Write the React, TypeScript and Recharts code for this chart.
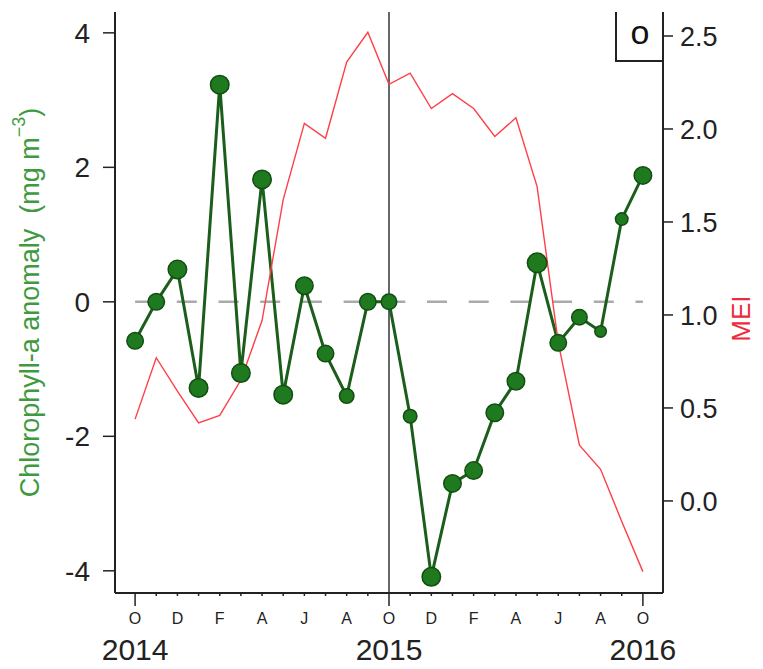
import React from 'react';
import { ComposedChart, Line, XAxis, YAxis, ReferenceLine } from 'recharts';

const monthLetters = ['O','N','D','J','F','M','A','M','J','J','A','S','O','N','D','J','F','M','A','M','J','J','A','S','O'];
const yearLabels: Record<number, string> = { 0: '2014', 12: '2015', 24: '2016' };
const chlAnomaly = [-0.58, 0.0, 0.48, -1.28, 3.23, -1.06, 1.82, -1.38, 0.24, -0.77, -1.40, 0.0, 0.0, -1.70, -4.09, -2.70, -2.51, -1.65, -1.18, 0.58, -0.61, -0.23, -0.44, 1.23, 1.88];
const meiValues = [0.44, 0.77, 0.59, 0.42, 0.46, 0.65, 0.97, 1.62, 2.03, 1.95, 2.36, 2.52, 2.24, 2.30, 2.11, 2.19, 2.11, 1.96, 2.06, 1.69, 0.85, 0.30, 0.17, -0.11, -0.38];
const pointSizes = [9, 9, 10, 10, 10, 10, 10, 10, 9.5, 9, 8, 9, 8.5, 7.5, 10, 9.5, 9.5, 9.5, 9.5, 10.5, 9, 8.5, 6.5, 7, 9.5];
const leftTicks = [-4, -2, 0, 2, 4];
const rightTicks = [0, 0.5, 1.0, 1.5, 2.0, 2.5];
const xTicks = monthLetters.map((_, i) => i);

const data = monthLetters.map((m, i) => ({
  i,
  chl: chlAnomaly[i],
  mei: meiValues[i],
  r: pointSizes[i],
}));

const FONT = 'Liberation Sans, Arial, sans-serif';

const XTick = (props: any) => {
  const { x, y, payload } = props;
  const idx = payload.value as number;
  const isYear = yearLabels[idx] !== undefined;
  return (
    <g>
      <line x1={x} x2={x} y1={y} y2={y + (isYear ? 13 : 3)} stroke="#222" strokeWidth={1.5} />
      {idx % 2 === 0 && (
        <text x={x} y={y + 31} textAnchor="middle" fontFamily={FONT} fontSize={16} fill="#222">
          {monthLetters[idx]}
        </text>
      )}
      {isYear && (
        <text x={x} y={y + 67} textAnchor="middle" fontFamily={FONT} fontSize={30} fill="#222">
          {yearLabels[idx]}
        </text>
      )}
    </g>
  );
};

const GreenDot = (props: any) => {
  const { cx, cy, payload, index } = props;
  if (cx == null || cy == null) return <g key={`d${index}`} />;
  return (
    <circle key={`d${index}`} cx={cx} cy={cy} r={payload.r - 0.75} fill="#1f7a1f" stroke="#124d12" strokeWidth={1.5} />
  );
};

const LeftLabel = (props: any) => {
  const vb = props.viewBox || { x: 55, y: 12, width: 60, height: 581 };
  const cx = vb.x - 25;
  const cy = vb.y + vb.height / 2;
  return (
    <text x={cx} y={cy} transform={`rotate(-90 ${cx} ${cy})`} textAnchor="middle" dominantBaseline="central" fontFamily={FONT} fontSize={27} fill="#3f9a3f">
      Chlorophyll-a anomaly{'\u00a0\u00a0'}(mg m<tspan dy={-11} fontSize={18}>{'\u22123'}</tspan><tspan dy={11}>)</tspan>
    </text>
  );
};

const RightLabel = (props: any) => {
  const vb = props.viewBox || { x: 663, y: 12, width: 60, height: 581 };
  const cx = vb.x + vb.width + 18;
  const cy = vb.y + vb.height / 2 + 16;
  return (
    <text x={cx} y={cy} transform={`rotate(-90 ${cx} ${cy})`} textAnchor="middle" dominantBaseline="central" fontFamily={FONT} fontSize={26} fill="#ee2a3a">
      MEI
    </text>
  );
};

export default function App() {
  return (
    <div style={{ position: 'absolute', left: 0, top: 0, width: 763, height: 669, background: '#fff' }}>
      <ComposedChart width={763} height={669} data={data} margin={{ top: 12, right: 40, bottom: 36, left: 55 }}>
        <XAxis
          dataKey="i"
          type="number"
          domain={[-0.95, 24.95]}
          ticks={xTicks}
          interval={0}
          tick={<XTick />}
          tickLine={false}
          tickSize={0}
          tickMargin={0}
          height={40}
          axisLine={{ stroke: '#222', strokeWidth: 2 }}
          allowDataOverflow
        />
        <XAxis
          xAxisId="top"
          orientation="top"
          dataKey="i"
          type="number"
          domain={[-0.95, 24.95]}
          tick={false}
          tickLine={false}
          height={0}
          axisLine={{ stroke: '#222', strokeWidth: 2 }}
        />
        <YAxis
          yAxisId="left"
          orientation="left"
          type="number"
          domain={[-4.33, 4.31]}
          ticks={leftTicks}
          interval={0}
          allowDataOverflow
          width={60}
          tickSize={12}
          tickMargin={13}
          tick={{ fontSize: 28, fill: '#222', fontFamily: FONT }}
          tickLine={{ stroke: '#222', strokeWidth: 1.5 }}
          axisLine={{ stroke: '#222', strokeWidth: 2 }}
          label={<LeftLabel />}
        />
        <YAxis
          yAxisId="right"
          orientation="right"
          type="number"
          domain={[-0.495, 2.629]}
          ticks={rightTicks}
          interval={0}
          allowDataOverflow
          width={60}
          tickSize={10}
          tickMargin={7}
          tickFormatter={(v: number) => v.toFixed(1)}
          tick={{ fontSize: 27, fill: '#222', fontFamily: FONT }}
          tickLine={{ stroke: '#222', strokeWidth: 1.5 }}
          axisLine={{ stroke: '#222', strokeWidth: 2 }}
          label={<RightLabel />}
        />
        <ReferenceLine
          yAxisId="left"
          segment={[{ x: 0, y: 0 }, { x: 24, y: 0 }]}
          stroke="#aaaaaa"
          strokeWidth={2.5}
          strokeDasharray="20 21.7"
        />
        <ReferenceLine yAxisId="left" x={12} stroke="#000" strokeWidth={1.2} />
        <Line
          yAxisId="left"
          dataKey="chl"
          stroke="#1b5e1b"
          strokeWidth={3}
          dot={GreenDot}
          activeDot={false}
          isAnimationActive={false}
        />
        <Line
          yAxisId="right"
          dataKey="mei"
          stroke="#ff3f48"
          strokeWidth={1.4}
          dot={false}
          activeDot={false}
          isAnimationActive={false}
        />
      </ComposedChart>
      <svg width={763} height={669} style={{ position: 'absolute', left: 0, top: 0, pointerEvents: 'none' }}>
        <path d="M616 12 L616 61 L663 61" fill="none" stroke="#222" strokeWidth={2} />
        <text x={640} y={44} textAnchor="middle" fontFamily={FONT} fontSize={34} fill="#111">o</text>
      </svg>
    </div>
  );
}
